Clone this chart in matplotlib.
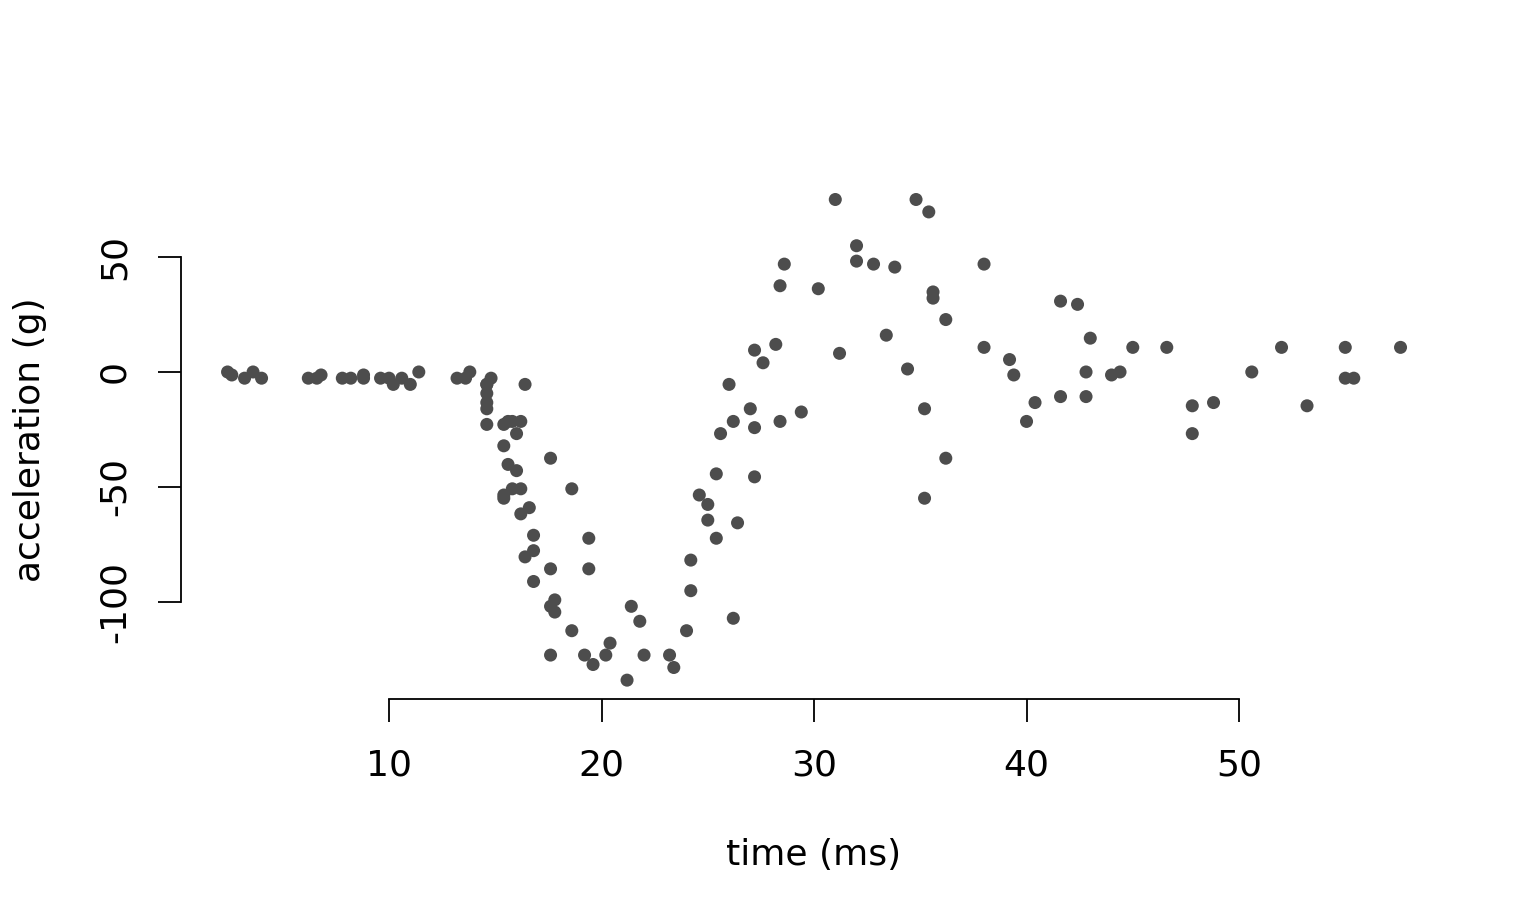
import matplotlib
matplotlib.use("Agg")
import matplotlib.pyplot as plt

# mcycle data: time after impact (ms) and head acceleration (g)
times = [2.4, 2.6, 3.2, 3.6, 4.0, 6.2, 6.6, 6.8, 7.8, 8.2, 8.8, 8.8, 9.6, 10.0,
         10.2, 10.6, 11.0, 11.4, 13.2, 13.6, 13.8, 14.6, 14.6, 14.6, 14.6, 14.6,
         14.6, 14.8, 15.4, 15.4, 15.4, 15.4, 15.6, 15.6, 15.8, 15.8, 16.0, 16.0,
         16.2, 16.2, 16.2, 16.4, 16.4, 16.6, 16.8, 16.8, 16.8, 17.6, 17.6, 17.6,
         17.6, 17.8, 17.8, 18.6, 18.6, 19.2, 19.4, 19.4, 19.6, 20.2, 20.4, 21.2,
         21.4, 21.8, 22.0, 23.2, 23.4, 24.0, 24.2, 24.2, 24.6, 25.0, 25.0, 25.4,
         25.4, 25.6, 26.0, 26.2, 26.2, 26.4, 27.0, 27.2, 27.2, 27.2, 27.6, 28.2,
         28.4, 28.4, 28.6, 29.4, 30.2, 31.0, 31.2, 32.0, 32.0, 32.8, 33.4, 33.8,
         34.4, 34.8, 35.2, 35.2, 35.4, 35.6, 35.6, 36.2, 36.2, 38.0, 38.0, 39.2,
         39.4, 40.0, 40.4, 41.6, 41.6, 42.4, 42.8, 42.8, 43.0, 44.0, 44.4, 45.0,
         46.6, 47.8, 47.8, 48.8, 50.6, 52.0, 53.2, 55.0, 55.0, 55.4, 57.6]
accel = [0.0, -1.3, -2.7, 0.0, -2.7, -2.7, -2.7, -1.3, -2.7, -2.7, -1.3, -2.7,
         -2.7, -2.7, -5.4, -2.7, -5.4, 0.0, -2.7, -2.7, 0.0, -13.3, -5.4, -5.4,
         -9.3, -16.0, -22.8, -2.7, -22.8, -32.1, -53.5, -54.9, -40.2, -21.5,
         -21.5, -50.8, -42.9, -26.8, -21.5, -50.8, -61.7, -5.4, -80.4, -59.0,
         -71.0, -91.1, -77.7, -37.5, -85.6, -123.1, -101.9, -99.1, -104.4,
         -112.5, -50.8, -123.1, -85.6, -72.3, -127.2, -123.1, -117.9, -134.0,
         -101.9, -108.4, -123.1, -123.1, -128.5, -112.5, -95.1, -81.8, -53.5,
         -64.4, -57.6, -72.3, -44.3, -26.8, -5.4, -107.1, -21.5, -65.6, -16.0,
         -45.6, -24.2, 9.5, 4.0, 12.0, -21.5, 37.5, 46.9, -17.4, 36.2, 75.0,
         8.1, 54.9, 48.2, 46.9, 16.0, 45.6, 1.3, 75.0, -16.0, -54.9, 69.6, 34.8,
         32.1, -37.5, 22.8, 46.9, 10.7, 5.4, -1.3, -21.5, -13.3, 30.8, -10.7,
         29.4, 0.0, -10.7, 14.7, -1.3, 0.0, 10.7, 10.7, -26.8, -14.7, -13.3, 0.0,
         10.7, -14.7, -2.7, 10.7, -2.7, 10.7]

x_ticks = [10, 20, 30, 40, 50]
y_ticks = [-100, -50, 0, 50]

fig = plt.figure(figsize=(15.4, 9.24), dpi=100)
ax = fig.add_axes([0.1173, 0.2431, 0.8226, 0.5618])

ax.scatter(times, accel, s=88, color="#4D4D4D", edgecolors="none", zorder=3)

# R-style 4% padding
xr = max(times) - min(times)
yr = max(accel) - min(accel)
ax.set_xlim(min(times) - 0.04 * xr, max(times) + 0.04 * xr)
ax.set_ylim(min(accel) - 0.04 * yr, max(accel) + 0.04 * yr)

for side in ["top", "right"]:
    ax.spines[side].set_visible(False)
ax.spines["bottom"].set_bounds(x_ticks[0], x_ticks[-1])
ax.spines["left"].set_bounds(y_ticks[0], y_ticks[-1])
for side in ["bottom", "left"]:
    ax.spines[side].set_linewidth(1.3)

ax.set_xticks(x_ticks)
ax.set_yticks(y_ticks)
ax.set_yticklabels([str(v) for v in y_ticks], rotation=90, va="center")
ax.tick_params(axis="both", length=16.5, width=1.3, labelsize=26, pad=19)

ax.set_xlabel("time (ms)", fontsize=26)
ax.set_ylabel("acceleration (g)", fontsize=26)
ax.xaxis.set_label_coords(0.5, -0.2997)
ax.yaxis.set_label_coords(-0.1188, 0.5)
ax.xaxis.label.set_va("center")
ax.yaxis.label.set_va("center")

fig.savefig("out.png", dpi=100)
